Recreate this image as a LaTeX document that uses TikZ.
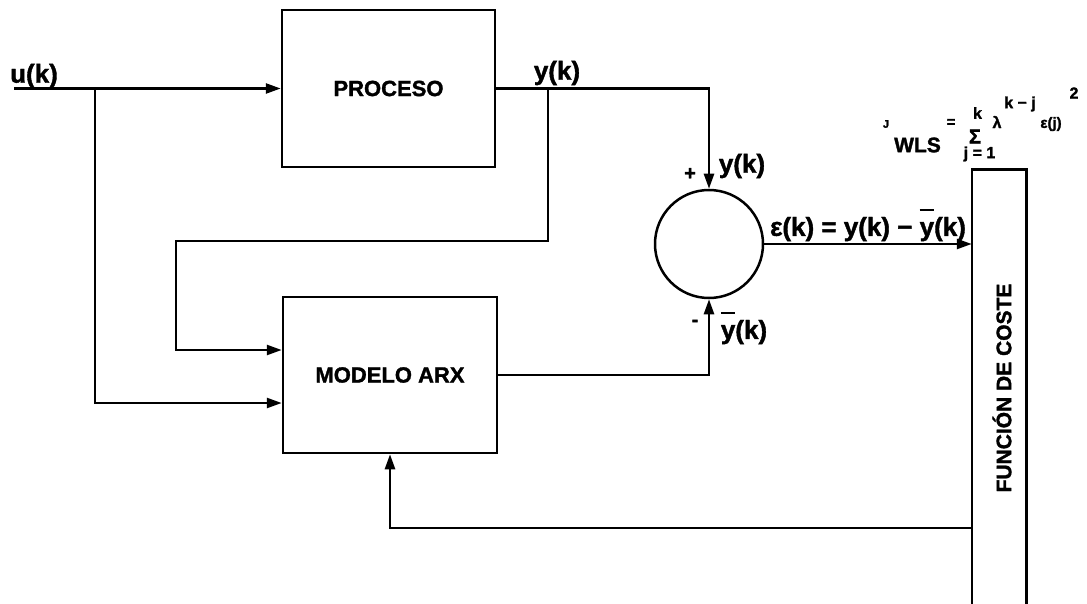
\documentclass[tikz,border=0pt]{standalone}
\usepackage{fontspec}
\setmainfont{Liberation Sans}[BoldFeatures={FakeBold=1.5}]
\usetikzlibrary{arrows.meta}
\newcommand{\fsz}[1]{\fontsize{#1}{#1}\selectfont}
\newcommand{\ybar}{\rlap{\raisebox{0.95em}{\rule{0.55em}{0.09em}}}y}
\begin{document}
\begin{tikzpicture}[x=1pt,y=-1pt,
  line width=2.5pt,
  blk/.style={draw, rectangle, inner sep=0pt, font=\fsz{22}\bfseries},
  arr/.style={-{Triangle[length=15pt,width=10pt]}},
  lbl/.style={inner sep=0pt, font=\fsz{26}\bfseries},
  frm/.style={inner sep=0pt, font=\fsz{16}\bfseries}]
\useasboundingbox (0,0) rectangle (1087,604);

% blocks
\node[blk, minimum width=213pt, minimum height=157pt] (proc) at (388.5,88.5) {PROCESO};
\node[blk, minimum width=214pt, minimum height=156pt] (model) at (390,375) {MODELO ARX};
\node[draw, circle, minimum size=108pt, inner sep=0pt] (sum) at (709,244) {};
\node[rectangle, minimum width=52pt, minimum height=433pt, inner sep=0pt] (cost) at (999,387.5) {};
\draw (cost.south west) -- (cost.north west) -- (cost.north east) -- (cost.south east);
\node[rotate=90, inner sep=0pt, font=\fsz{21}\bfseries] (costtxt) at (1002,388) {FUNCIÓN DE COSTE};

% coordinates
\coordinate (uin) at (14,88.5);
\coordinate (ub) at (95,88.5);
\coordinate (yb) at (548,88.5);
\coordinate (fb) at (cost.west |- 0,528);

% connectors
\draw[arr] (uin) -- (proc.west);
\draw[arr] (ub) |- (model.west |- 0,403);
\draw[arr] (proc.east) -| (sum.north);
\draw[arr] (yb) |- (176,241) |- (model.west |- 0,350);
\draw[arr] (model.east) -| (sum.south);
\draw[arr] (sum.east) -- (cost.west |- sum.east);
\draw[arr] (fb) -| (model.south);

% labels
\node[lbl] (lu) at (34,76) {u(k)};
\node[lbl] (ly) at (557,73) {y(k)};
\node[inner sep=0pt, font=\fsz{20}\bfseries] (lplus) at (690,174) {+};
\node[lbl] (ly2) at (742,166) {y(k)};
\node[inner sep=0pt, font=\fsz{20}\bfseries] (lminus) at (695,323) {-};
\node[lbl] (lyb) at (744,328) {\ybar(k)};
\node[lbl] (leps) at (868,225) {ε(k) = y(k) − \ybar(k)};

% formula
\node[inner sep=0pt, font=\fsz{11}\bfseries] (fJ) at (886,124) {J};
\node[inner sep=0pt, font=\fsz{21}\bfseries] (fW) at (917.5,145) {WLS};
\node[inner sep=0pt, font=\fsz{15}\bfseries] (feq) at (951,123) {=};
\node[inner sep=0pt, font=\fsz{20}\bfseries] (fS) at (975,136.5) {Σ};
\node[frm] (fk) at (977.5,113) {k};
\node[frm] (fj) at (979.5,154) {j = 1};
\node[frm] (fl) at (997,122) {λ};
\node[frm] (fkj) at (1020,104) {k − j};
\node[inner sep=0pt, font=\fsz{15}\bfseries] (fe) at (1051,124) {ε(j)};
\node[frm] (f2) at (1074,93) {2};
\end{tikzpicture}
\end{document}
